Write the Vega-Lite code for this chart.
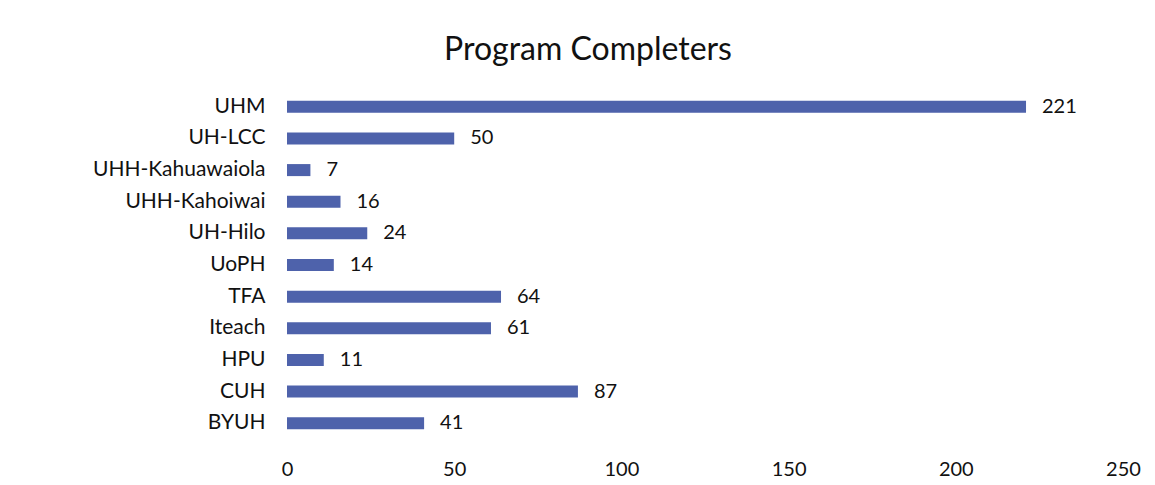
{
  "$schema": "https://vega.github.io/schema/vega-lite/v6.json",
  "autosize": {"type": "none"},
  "padding": {"left": 287, "top": 91, "right": 32, "bottom": 46},
  "width": 836,
  "height": 348,
  "background": "white",
  "title": {
    "text": "Program Completers",
    "font": "Lato",
    "fontSize": 32,
    "fontWeight": "normal",
    "color": "#111111",
    "anchor": "middle",
    "dx": -117,
    "offset": 24
  },
  "data": {
    "values": [
      {"program": "UHM", "completers": 221},
      {"program": "UH-LCC", "completers": 50},
      {"program": "UHH-Kahuawaiola", "completers": 7},
      {"program": "UHH-Kahoiwai", "completers": 16},
      {"program": "UH-Hilo", "completers": 24},
      {"program": "UoPH", "completers": 14},
      {"program": "TFA", "completers": 64},
      {"program": "Iteach", "completers": 61},
      {"program": "HPU", "completers": 11},
      {"program": "CUH", "completers": 87},
      {"program": "BYUH", "completers": 41}
    ]
  },
  "encoding": {
    "y": {
      "field": "program",
      "type": "nominal",
      "sort": null,
      "title": null,
      "scale": {"paddingInner": 0.62, "paddingOuter": 0.31},
      "axis": {
        "domain": false,
        "ticks": false,
        "labelPadding": 22,
        "labelFont": "Lato",
        "labelFontSize": 21,
        "labelColor": "#111111"
      }
    },
    "x": {
      "field": "completers",
      "type": "quantitative",
      "title": null,
      "scale": {"domain": [0, 250], "nice": false},
      "axis": {
        "values": [0, 50, 100, 150, 200, 250],
        "grid": false,
        "domain": false,
        "ticks": false,
        "labelPadding": 20,
        "labelFont": "Lato",
        "labelFontSize": 20,
        "labelColor": "#111111",
        "labelFlush": false
      }
    }
  },
  "layer": [
    {"mark": {"type": "bar", "color": "#4e62ab"}},
    {
      "mark": {"type": "text", "align": "left", "baseline": "middle", "dx": 16, "font": "Lato", "fontSize": 20, "color": "#111111"},
      "encoding": {"text": {"field": "completers", "type": "quantitative"}}
    }
  ],
  "config": {"view": {"stroke": null}}
}
